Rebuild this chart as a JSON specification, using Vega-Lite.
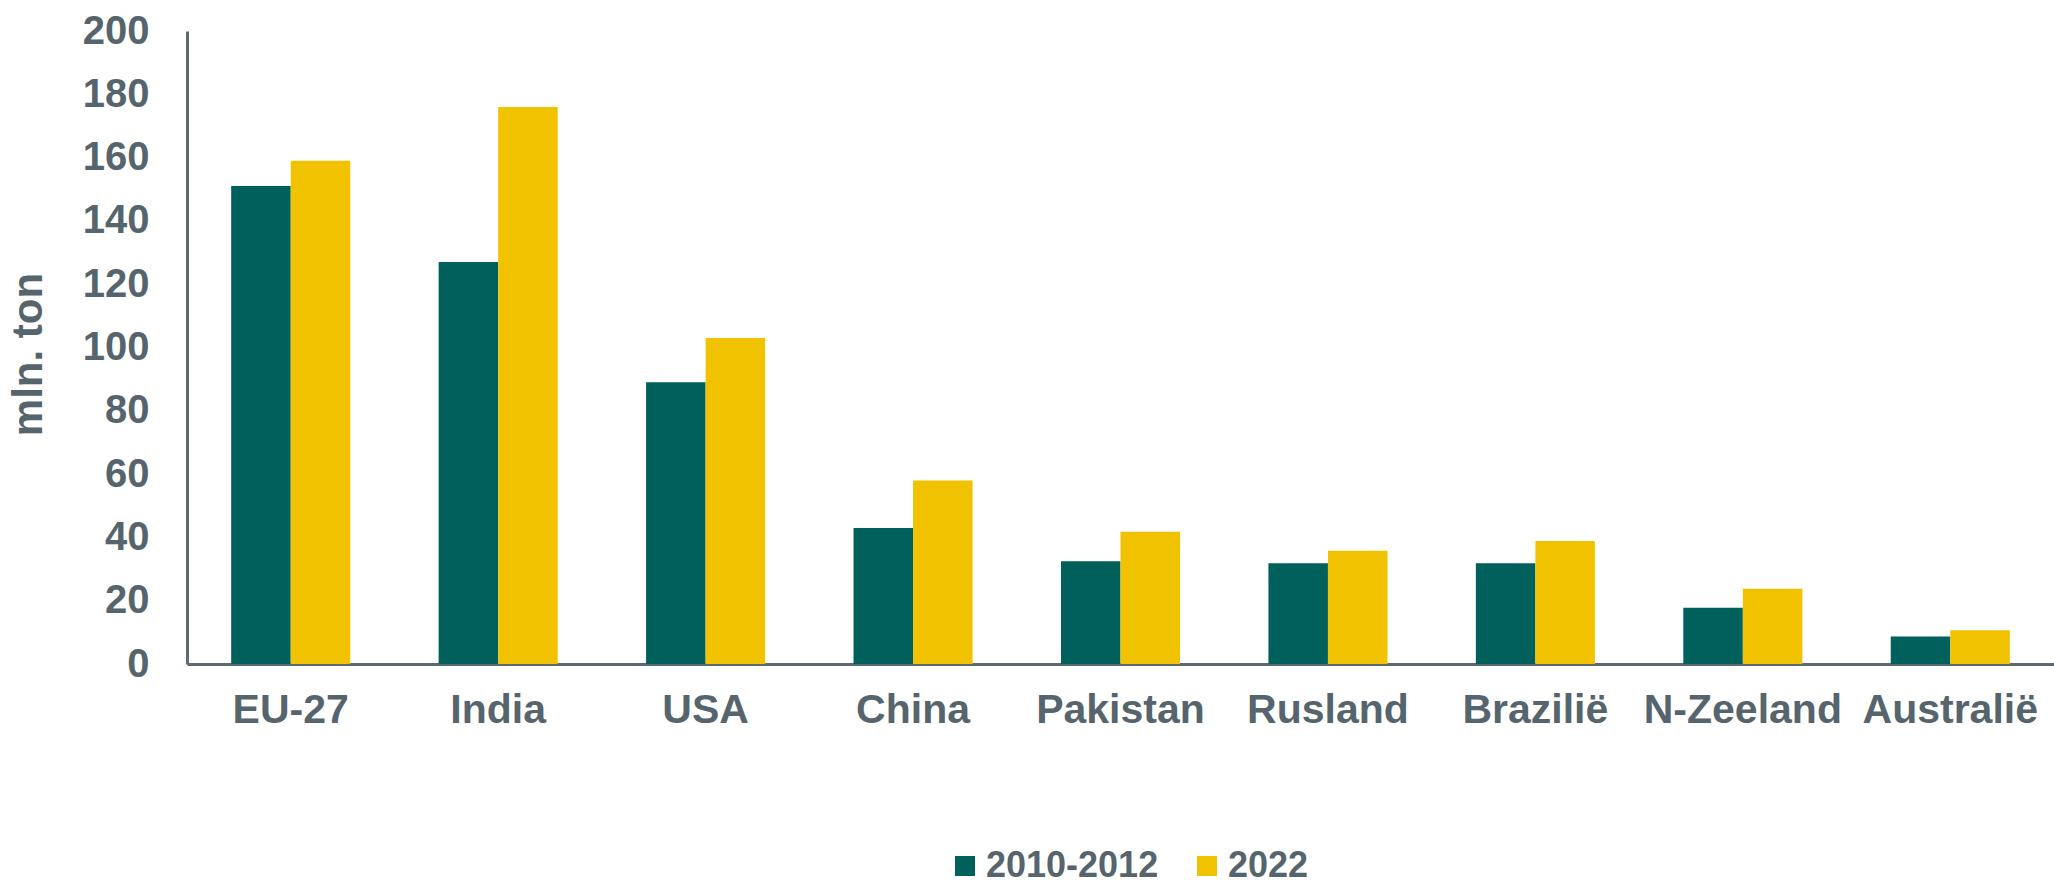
{
  "$schema": "https://vega.github.io/schema/vega-lite/v6.json",
  "autosize": {"type": "none"},
  "width": 1867,
  "height": 633,
  "padding": {"left": 187, "top": 31, "right": 0, "bottom": 226},
  "background": "#ffffff",
  "config": {
    "font": "Liberation Sans",
    "view": {"stroke": null},
    "axis": {"grid": false, "ticks": false, "domainColor": "#5E6A71", "domainWidth": 3, "labelColor": "#56656D", "labelFont": "Liberation Sans", "labelFontWeight": "bold", "titleColor": "#56656D", "titleFont": "Liberation Sans", "titleFontWeight": "bold"}
  },
  "data": {
    "values": [
      {"land": "EU-27", "periode": "2010-2012", "waarde": 151},
      {"land": "EU-27", "periode": "2022", "waarde": 159},
      {"land": "India", "periode": "2010-2012", "waarde": 127},
      {"land": "India", "periode": "2022", "waarde": 176},
      {"land": "USA", "periode": "2010-2012", "waarde": 89},
      {"land": "USA", "periode": "2022", "waarde": 103},
      {"land": "China", "periode": "2010-2012", "waarde": 43},
      {"land": "China", "periode": "2022", "waarde": 58},
      {"land": "Pakistan", "periode": "2010-2012", "waarde": 32.5},
      {"land": "Pakistan", "periode": "2022", "waarde": 41.8},
      {"land": "Rusland", "periode": "2010-2012", "waarde": 31.8},
      {"land": "Rusland", "periode": "2022", "waarde": 35.8},
      {"land": "Brazilië", "periode": "2010-2012", "waarde": 31.8},
      {"land": "Brazilië", "periode": "2022", "waarde": 38.9},
      {"land": "N-Zeeland", "periode": "2010-2012", "waarde": 17.8},
      {"land": "N-Zeeland", "periode": "2022", "waarde": 23.8},
      {"land": "Australië", "periode": "2010-2012", "waarde": 8.7},
      {"land": "Australië", "periode": "2022", "waarde": 10.7}
    ]
  },
  "mark": {"type": "bar"},
  "encoding": {
    "x": {
      "field": "land", "type": "nominal", "sort": null,
      "scale": {"paddingInner": 0.426, "paddingOuter": 0.213},
      "axis": {"title": null, "labelAngle": 0, "labelFontSize": 41, "labelPadding": 26, "labelOverlap": false, "labelLimit": 400}
    },
    "xOffset": {"field": "periode", "type": "nominal", "scale": {"paddingInner": 0, "paddingOuter": 0}},
    "y": {
      "field": "waarde", "type": "quantitative",
      "scale": {"domain": [0, 200]},
      "axis": {"title": "mln. ton", "titleFontSize": 42, "titlePadding": 32, "titleY": 323, "labelFontSize": 40, "labelPadding": 38, "values": [0,20,40,60,80,100,120,140,160,180,200]}
    },
    "color": {
      "field": "periode", "type": "nominal",
      "scale": {"domain": ["2010-2012", "2022"], "range": ["#00605B", "#F1C200"]},
      "legend": {"title": null, "orient": "none", "legendX": 760, "legendY": 817, "direction": "horizontal", "symbolType": "square", "symbolSize": 400, "symbolStrokeWidth": 0, "labelFontSize": 36, "labelFontWeight": "bold", "labelColor": "#56656D", "labelFont": "Liberation Sans", "labelOffset": 3, "columnPadding": 30, "labelLimit": 400}
    }
  }
}
